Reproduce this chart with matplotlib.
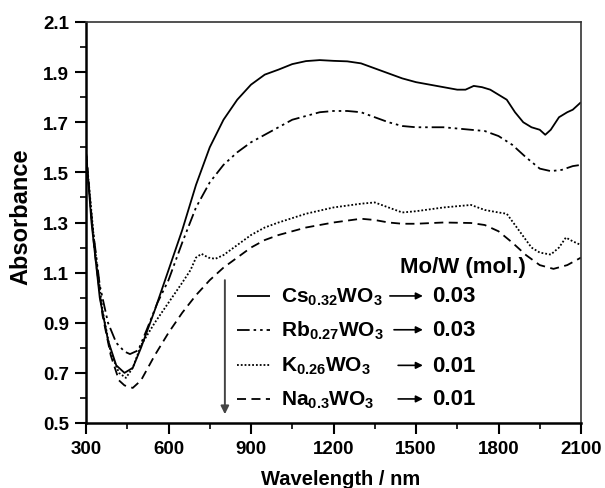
import matplotlib
matplotlib.use("Agg")
import matplotlib.pyplot as plt
import numpy as np


# spectra (wavelength in nm, absorbance)
cs_wl = [300, 320, 350, 380, 410, 440, 470, 500, 550, 600, 650, 700, 750, 800, 850, 900, 950,
         1000, 1050, 1100, 1150, 1200, 1250, 1300, 1350, 1400, 1450, 1500, 1550, 1600, 1650,
         1680, 1710, 1740, 1770, 1800, 1830, 1860, 1890, 1920, 1950, 1970, 1990, 2020, 2050,
         2070, 2100]
cs_abs = [1.58, 1.30, 1.00, 0.83, 0.73, 0.70, 0.72, 0.80, 0.95, 1.11, 1.27, 1.45, 1.60, 1.71,
          1.79, 1.85, 1.89, 1.91, 1.932, 1.944, 1.948, 1.945, 1.943, 1.935, 1.915, 1.895, 1.875,
          1.86, 1.85, 1.84, 1.83, 1.83, 1.845, 1.84, 1.83, 1.81, 1.79, 1.74, 1.70, 1.68, 1.67,
          1.65, 1.67, 1.72, 1.74, 1.75, 1.78]

rb_wl = [300, 320, 350, 380, 410, 440, 460, 490, 520, 560, 600, 650, 700, 750, 800, 850, 900,
         950, 1000, 1050, 1100, 1150, 1200, 1250, 1300, 1350, 1400, 1450, 1500, 1550, 1600,
         1650, 1700, 1750, 1800, 1850, 1900, 1950, 1990, 2030, 2070, 2100]
rb_abs = [1.58, 1.32, 1.05, 0.90, 0.82, 0.785, 0.775, 0.79, 0.87, 0.98, 1.07, 1.22, 1.36, 1.46,
          1.53, 1.58, 1.62, 1.65, 1.68, 1.71, 1.725, 1.74, 1.745, 1.745, 1.74, 1.72, 1.70, 1.685,
          1.68, 1.68, 1.68, 1.675, 1.67, 1.665, 1.645, 1.61, 1.56, 1.515, 1.505, 1.51, 1.525,
          1.53]

k_wl = [300, 330, 360, 390, 420, 445, 470, 500, 550, 600, 650, 680, 700, 720, 745, 770, 800,
        850, 900, 950, 1000, 1100, 1200, 1300, 1350, 1400, 1450, 1500, 1600, 1700, 1750, 1800,
        1830, 1860, 1890, 1920, 1950, 1990, 2020, 2045, 2070, 2100]
k_abs = [1.58, 1.22, 0.95, 0.78, 0.70, 0.68, 0.72, 0.81, 0.90, 0.98, 1.06, 1.11, 1.16, 1.175,
         1.16, 1.155, 1.17, 1.21, 1.25, 1.28, 1.30, 1.335, 1.36, 1.375, 1.38, 1.36, 1.34, 1.345,
         1.36, 1.37, 1.35, 1.34, 1.335, 1.29, 1.245, 1.20, 1.18, 1.172, 1.20, 1.24, 1.225, 1.21]

na_wl = [300, 330, 360, 390, 420, 440, 470, 500, 550, 600, 650, 700, 750, 800, 850, 900, 950,
         1000, 1100, 1200, 1300, 1350, 1400, 1450, 1500, 1600, 1700, 1750, 1800, 1850, 1900,
         1950, 2000, 2050, 2100]
na_abs = [1.58, 1.20, 0.93, 0.77, 0.67, 0.65, 0.64, 0.67, 0.77, 0.86, 0.94, 1.01, 1.07, 1.12,
          1.16, 1.20, 1.23, 1.25, 1.28, 1.30, 1.315, 1.31, 1.30, 1.295, 1.295, 1.30, 1.298, 1.29,
          1.265, 1.22, 1.17, 1.13, 1.115, 1.13, 1.16]

series_labels = [r"$\mathbf{Cs_{0.32}WO_3}$", r"$\mathbf{Rb_{0.27}WO_3}$",
                 r"$\mathbf{K_{0.26}WO_3}$", r"$\mathbf{Na_{0.3}WO_3}$"]
mo_w_ratio = ["0.03", "0.03", "0.01", "0.01"]

x_ticks = [300, 600, 900, 1200, 1500, 1800, 2100]
y_ticks = [0.5, 0.7, 0.9, 1.1, 1.3, 1.5, 1.7, 1.9, 2.1]

LINE_STYLES = [
    (0, ()),
    (0, (7, 2.2, 1.4, 2.2, 1.4, 2.2)),
    (0, (1, 1.1)),
    (0, (5, 3)),
]


def setup_fonts() -> None:
    plt.rcParams["font.family"] = ["Liberation Sans", "DejaVu Sans"]
    plt.rcParams["font.weight"] = "bold"
    plt.rcParams["mathtext.fontset"] = "custom"
    plt.rcParams["mathtext.rm"] = "Liberation Sans:bold"
    plt.rcParams["mathtext.bf"] = "Liberation Sans:bold"


def draw_key(ax: plt.Axes) -> None:
    # hand-made legend: vertical arrow, line samples, formulas and Mo/W ratios
    row_y = [1.007, 0.872, 0.730, 0.596]
    arrow_start = [1405, 1420, 1435, 1435]
    ax.annotate("", xy=(805, 0.535), xytext=(805, 1.07),
                arrowprops=dict(arrowstyle="-|>", color="#444444", lw=1.4,
                                mutation_scale=12, shrinkA=0, shrinkB=0))
    ax.text(1440, 1.126, "Mo/W (mol.)", fontsize=16, fontweight="bold", va="center")
    for i, y in enumerate(row_y):
        ax.plot([849, 969], [y, y], color="black", lw=1.3, linestyle=LINE_STYLES[i])
        ax.text(1010, y, series_labels[i], fontsize=15, va="center")
        ax.annotate("", xy=(1525, y), xytext=(arrow_start[i], y),
                    arrowprops=dict(arrowstyle="-|>", color="black", lw=1.2,
                                    mutation_scale=10, shrinkA=0, shrinkB=0))
        ax.text(1560, y, mo_w_ratio[i], fontsize=16, fontweight="bold", va="center")


def main() -> None:
    setup_fonts()
    fig = plt.figure(figsize=(6.05, 4.89), dpi=100)
    ax = fig.add_axes([86 / 605, 1 - 424 / 489, 495 / 605, 401 / 489])

    curves = [(cs_wl, cs_abs), (rb_wl, rb_abs), (k_wl, k_abs), (na_wl, na_abs)]
    for (wl, ab), style in zip(curves, LINE_STYLES):
        ax.plot(np.asarray(wl), np.asarray(ab), color="black", lw=1.3, linestyle=style)

    draw_key(ax)

    ax.set_xlim(300, 2100)
    ax.set_ylim(0.5, 2.1)
    ax.set_xticks(x_ticks)
    ax.set_yticks(y_ticks)
    ax.set_yticklabels([f"{v:.1f}" for v in y_ticks])
    ax.set_xticks([450, 750, 1050, 1350, 1650, 1950], minor=True)
    ax.set_yticks([0.6, 0.8, 1.0, 1.2, 1.4, 1.6, 1.8, 2.0], minor=True)
    ax.tick_params(which="major", direction="out", length=8, width=1.5, labelsize=13.5, pad=4)
    ax.tick_params(which="minor", direction="out", length=4.5, width=1.2)
    for label in ax.get_xticklabels() + ax.get_yticklabels():
        label.set_fontweight("bold")
    for side in ("left", "bottom"):
        ax.spines[side].set_linewidth(1.8)
    for side in ("top", "right"):
        ax.spines[side].set_linewidth(1.2)
        ax.spines[side].set_color("#333333")

    ax.set_xlabel("Wavelength / nm", fontsize=14.5, fontweight="bold")
    ax.xaxis.set_label_coords(0.515, -0.115)
    ax.set_ylabel("Absorbance", fontsize=17, fontweight="bold")
    ax.yaxis.set_label_coords(-0.108, 0.518)

    fig.savefig("out.png", dpi=100)
    plt.close(fig)


if __name__ == "__main__":
    main()
